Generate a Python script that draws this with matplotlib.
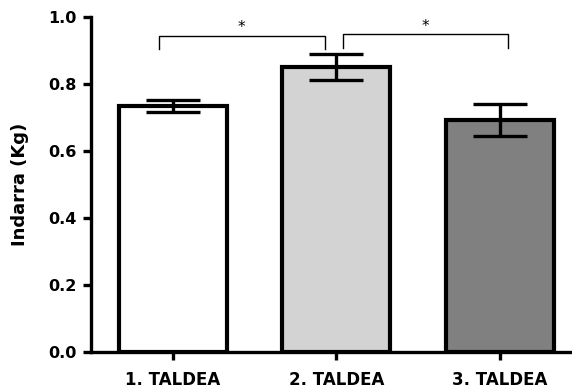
import matplotlib.pyplot as plt

plt.rcParams["font.family"] = ["DejaVu Sans"]

groups = ["1. TALDEA", "2. TALDEA", "3. TALDEA"]
means = [0.734, 0.852, 0.693]
sem = [0.017, 0.039, 0.047]
colors = ["white", "#d3d3d3", "#808080"]

# significance brackets: (x start, x end, top, leg bottom)
brackets = [(-0.086, 0.93, 0.944, 0.904), (1.04, 2.05, 0.948, 0.908)]

fig = plt.figure(figsize=(5.72, 3.9), dpi=100)
ax = fig.add_axes([0.159, 0.0974, 0.841, 0.859])

x = range(len(groups))
ax.bar(x, means, width=0.66, color=colors, edgecolor="black", linewidth=3, zorder=2)
ax.errorbar(x, means, yerr=sem, fmt="none", ecolor="black", elinewidth=2.4,
            capsize=19.5, capthick=2.4, zorder=3)

for x0, x1, top, bot in brackets:
    ax.plot([x0, x0, x1, x1], [bot, top, top, bot], color="black", linewidth=1, zorder=3)
    ax.text((x0 + x1) / 2, top + 0.002, "*", ha="center", va="bottom", fontsize=11)

ax.set_xlim(-0.5, 2.44)
ax.set_ylim(0, 1.0)
ax.set_yticks([0.0, 0.2, 0.4, 0.6, 0.8, 1.0])
ax.set_yticklabels(["0.0", "0.2", "0.4", "0.6", "0.8", "1.0"])
ax.set_xticks(list(x))
ax.set_xticklabels(groups)

ax.spines["top"].set_visible(False)
ax.spines["right"].set_visible(False)
ax.spines["left"].set_linewidth(2.4)
ax.spines["bottom"].set_linewidth(2.4)
ax.tick_params(axis="y", width=2.4, length=5.5, labelsize=11.5, pad=5)
ax.tick_params(axis="x", width=2.4, length=5.5, labelsize=12, pad=8)
for lbl in ax.get_xticklabels() + ax.get_yticklabels():
    lbl.set_fontweight("bold")

ax.set_ylabel("Indarra (Kg)", fontsize=13, fontweight="bold", labelpad=14)

plt.savefig("out.png", dpi=100)
